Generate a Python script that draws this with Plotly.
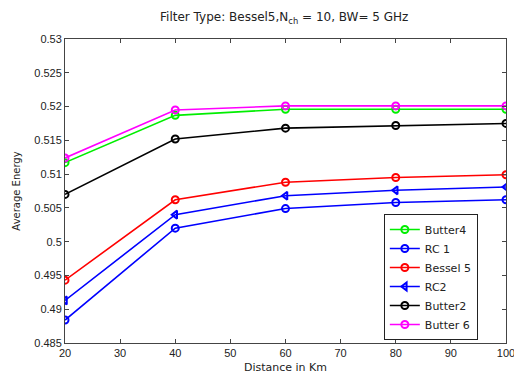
import plotly.graph_objects as go

distance = [20, 40, 60, 80, 100]
butter4 = [0.5117, 0.5187, 0.5196, 0.5196, 0.5196]
rc1 = [0.4884, 0.5020, 0.5049, 0.5058, 0.5062]
bessel5 = [0.4943, 0.5062, 0.5088, 0.5095, 0.5099]
rc2 = [0.4913, 0.5040, 0.5068, 0.5076, 0.5081]
butter2 = [0.5070, 0.5152, 0.5168, 0.5172, 0.5175]
butter6 = [0.5124, 0.5195, 0.5201, 0.5201, 0.5201]

series = [
    ("Butter4", butter4, "#00ee00", "circle-open"),
    ("RC 1", rc1, "#0000ff", "circle-open"),
    ("Bessel 5", bessel5, "#ff0000", "circle-open"),
    ("RC2", rc2, "#0000ff", "triangle-left-open"),
    ("Butter2", butter2, "#000000", "circle-open"),
    ("Butter 6", butter6, "#ff00ff", "circle-open"),
]

fig = go.Figure()
for name, ys, color, sym in series:
    fig.add_trace(go.Scatter(
        x=distance, y=ys, name=name, mode="lines+markers",
        line=dict(color=color, width=1.6),
        marker=dict(symbol=sym, size=7, color=color, line=dict(color=color, width=2)),
    ))

tick_font = dict(family="Liberation Sans, Arial, sans-serif", size=11, color="#222")
wide_font = "DejaVu Sans, sans-serif"
axis_common = dict(
    showgrid=False, zeroline=False, showline=True, linecolor="#444", linewidth=1,
    mirror="ticks", ticks="inside", ticklen=4, tickcolor="#444",
    tickfont=tick_font, ticklabeloverflow="allow", automargin=False,
)

fig.update_layout(
    width=514, height=374,
    margin=dict(l=65, r=8, t=39, b=31),
    paper_bgcolor="white", plot_bgcolor="white",
    font=tick_font,
    title=dict(text="Filter Type: Bessel5,N<sub>ch</sub> = 10, BW= 5 GHz",
               x=0.553, xanchor="center", y=0.955, yanchor="middle",
               font=dict(family=wide_font, size=12, color="#222")),
    xaxis=dict(range=[20, 100], tickvals=[20, 30, 40, 50, 60, 70, 80, 90, 100],
               title=dict(text="Distance in Km", standoff=10,
                          font=dict(family=wide_font, size=11, color="#222")),
               **axis_common),
    yaxis=dict(range=[0.485, 0.53],
               tickvals=[0.485, 0.49, 0.495, 0.5, 0.505, 0.51, 0.515, 0.52, 0.525, 0.53],
               ticktext=["0.485", "0.49", "0.495", "0.5", "0.505", "0.51", "0.515", "0.52", "0.525", "0.53"],
               title=dict(text="Average Energy", standoff=11,
                          font=dict(family=wide_font, size=10, color="#222")),
               **axis_common),
    legend=dict(x=0.723, y=0.01, xanchor="left", yanchor="bottom",
                bordercolor="#222", borderwidth=1, bgcolor="white",
                font=dict(family=wide_font, size=11, color="#222"),
                tracegroupgap=0, itemwidth=30, entrywidth=80, entrywidthmode="pixels"),
    showlegend=True,
)

fig.write_html("out.html")
